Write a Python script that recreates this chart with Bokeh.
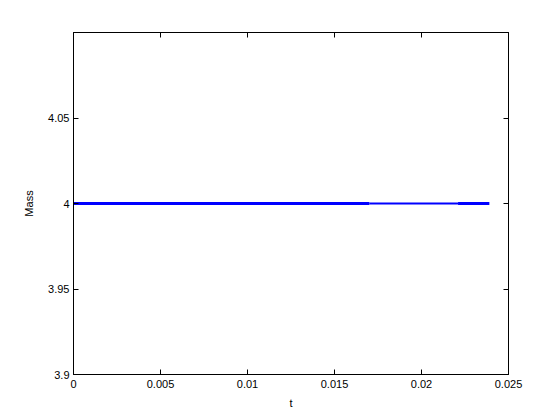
from bokeh.plotting import figure
from bokeh.models import Range1d, FixedTicker, LinearAxis
from bokeh.embed import file_html
from bokeh.resources import INLINE

# data
t = [0.0, 0.0170, 0.0221, 0.0239]
mass = [4.0, 4.0, 4.0, 4.0]

x_ticks = [0, 0.005, 0.01, 0.015, 0.02, 0.025]
x_tick_labels = ["0", "0.005", "0.01", "0.015", "0.02", "0.025"]
y_ticks = [3.9, 3.95, 4.0, 4.05]
y_tick_labels = ["3.9", "3.95", "4", "4.05"]

FONT = "Liberation Sans"

p = figure(frame_width=435, frame_height=342, output_backend="svg",
           toolbar_location=None, x_range=Range1d(0, 0.025), y_range=Range1d(3.9, 4.1),
           min_border_left=73, min_border_top=32, min_border_right=44, min_border_bottom=38)
p.xgrid.visible = False
p.ygrid.visible = False
p.outline_line_color = "black"
p.outline_line_width = 1
p.background_fill_color = "white"
p.border_fill_color = "white"

blue = "#0000ff"
p.line(t[0:2], mass[0:2], line_color=blue, line_width=3)
p.line(t[1:3], mass[1:3], line_color=blue, line_width=2)
p.line(t[2:4], mass[2:4], line_color=blue, line_width=3)

def style(ax, ticks, labels, show_labels=True):
    ax.ticker = FixedTicker(ticks=ticks)
    ax.major_label_overrides = {tk: lb for tk, lb in zip(ticks, labels)}
    ax.major_tick_in = 5
    ax.major_tick_out = 0
    ax.minor_tick_in = 0
    ax.minor_tick_out = 0
    ax.axis_line_color = "black"
    ax.major_tick_line_color = "black"
    ax.major_label_text_font = FONT
    ax.major_label_text_font_size = "11px"
    ax.major_label_text_color = "black" if show_labels else None
    ax.axis_label_text_font = FONT
    ax.axis_label_text_font_size = "11px"
    ax.axis_label_text_font_style = "normal"
    ax.axis_label_text_color = "black"

xa = p.xaxis[0]
style(xa, x_ticks, x_tick_labels)
xa.axis_label = "t"
xa.major_label_standoff = 5
xa.axis_label_standoff = 6

ya = p.yaxis[0]
style(ya, y_ticks, y_tick_labels)
ya.axis_label = "Mass"
ya.major_label_standoff = 4
ya.axis_label_standoff = 10

top = LinearAxis()
style(top, x_ticks, x_tick_labels, show_labels=False)
top.major_label_standoff = 0
p.add_layout(top, "above")

right = LinearAxis()
style(right, y_ticks, y_tick_labels, show_labels=False)
right.major_label_standoff = 0
p.add_layout(right, "right")

open("out.html", "w").write(file_html(p, INLINE))
